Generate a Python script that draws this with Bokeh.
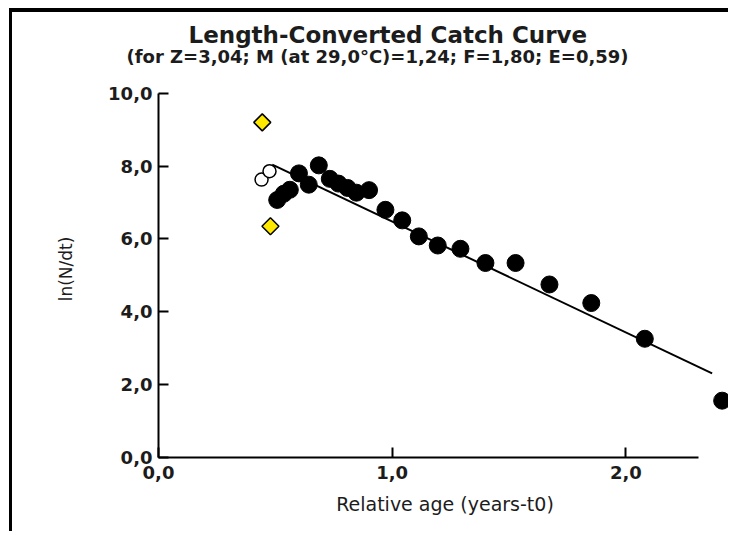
from bokeh.plotting import figure
from bokeh.models import Range1d, FixedTicker, Title
from bokeh.embed import file_html
from bokeh.resources import INLINE

# ---- data ----
excluded_x = [0.444, 0.479]          # yellow: excluded points
excluded_y = [9.20, 6.35]
unused_x = [0.441, 0.475]            # open circles: not used in regression
unused_y = [7.63, 7.86]
used_x = [0.508, 0.536, 0.562, 0.601, 0.643, 0.686, 0.733, 0.770, 0.809, 0.847,
          0.901, 0.971, 1.043, 1.114, 1.195, 1.292, 1.399, 1.528, 1.673, 1.852,
          2.081, 2.412]
used_y = [7.07, 7.24, 7.35, 7.80, 7.49, 8.02, 7.65, 7.52, 7.40, 7.27,
          7.34, 6.80, 6.51, 6.07, 5.82, 5.73, 5.34, 5.34, 4.75, 4.24,
          3.26, 1.56]
fit_x = [0.487, 2.369]
fit_y = [8.04, 2.31]

x_ticks = [0, 1, 2]
x_tick_labels = ["0,0", "1,0", "2,0"]
y_ticks = [0, 2, 4, 6, 8, 10]
y_tick_labels = ["0,0", "2,0", "4,0", "6,0", "8,0", "10,0"]

title_main = "Length-Converted Catch Curve"
title_sub = "(for Z=3,04; M (at 29,0\u00b0C)=1,24; F=1,80; E=0,59)"
x_label = "Relative age (years-t0)"
y_label = "ln(N/dt)"

FONT = "DejaVu Sans"
TXT = "#1c1c1c"

p = figure(width=719, height=523, output_backend="svg", toolbar_location=None,
           x_range=Range1d(0, 2.452), y_range=Range1d(0, 10.35),
           min_border_left=146, min_border_right=0, min_border_top=68,
           min_border_bottom=78, title=title_main)
p.margin = (8, 0, 0, 9)
p.styles = {"border-left": "3px solid black", "border-top": "4px solid black"}

p.title.text_font = FONT
p.title.text_font_size = "23px"
p.title.text_font_style = "bold"
p.title.text_color = TXT
p.title.align = "left"
p.title.offset = 30
p.title.standoff = -8

# spacer between the subtitle and the plot area
spacer = Title(text=" ", text_font_size="1px", standoff=11)
p.add_layout(spacer, "above")

sub = Title(text=title_sub, text_font=FONT, text_font_size="18px",
            text_font_style="bold", text_color=TXT, align="left", offset=-32,
            standoff=0)
p.add_layout(sub, "above")

p.grid.visible = False
p.outline_line_color = None
p.background_fill_color = "white"
p.border_fill_color = "white"

for ax in (p.xaxis[0], p.yaxis[0]):
    ax.axis_line_width = 2
    ax.axis_line_color = "black"
    ax.major_tick_line_width = 2
    ax.major_tick_line_color = "black"
    ax.major_tick_in = 10
    ax.major_tick_out = 0
    ax.minor_tick_line_color = None
    ax.major_label_text_font = FONT
    ax.major_label_text_font_size = "18px"
    ax.major_label_text_font_style = "bold"
    ax.major_label_text_color = TXT
    ax.axis_label_text_font = FONT
    ax.axis_label_text_font_style = "normal"
    ax.axis_label_text_color = TXT

p.xaxis.ticker = FixedTicker(ticks=x_ticks)
p.xaxis.major_label_overrides = dict(zip(x_ticks, x_tick_labels))
p.xaxis.bounds = (0, 2.31)
p.xaxis.axis_label = x_label
p.xaxis.axis_label_text_font_size = "19px"
p.xaxis.major_label_standoff = 8
p.xaxis.axis_label_standoff = 11

p.yaxis.ticker = FixedTicker(ticks=y_ticks)
p.yaxis.major_label_overrides = dict(zip(y_ticks, y_tick_labels))
p.yaxis.bounds = (0, 10)
p.yaxis.axis_label = y_label
p.yaxis.axis_label_text_font_size = "17px"
p.yaxis.major_label_standoff = 6
p.yaxis.axis_label_standoff = 29

p.line(fit_x, fit_y, line_color="black", line_width=2)
p.scatter(used_x, used_y, marker="circle", size=17, fill_color="black",
          line_color="black")
p.scatter(unused_x, unused_y, marker="circle", size=13, fill_color="white",
          line_color="black", line_width=1.5)
p.scatter(excluded_x, excluded_y, marker="square", angle=0.785398, size=12,
          fill_color="#ffe800", line_color="black", line_width=1.5)

open("out.html", "w").write(file_html(p, INLINE))
